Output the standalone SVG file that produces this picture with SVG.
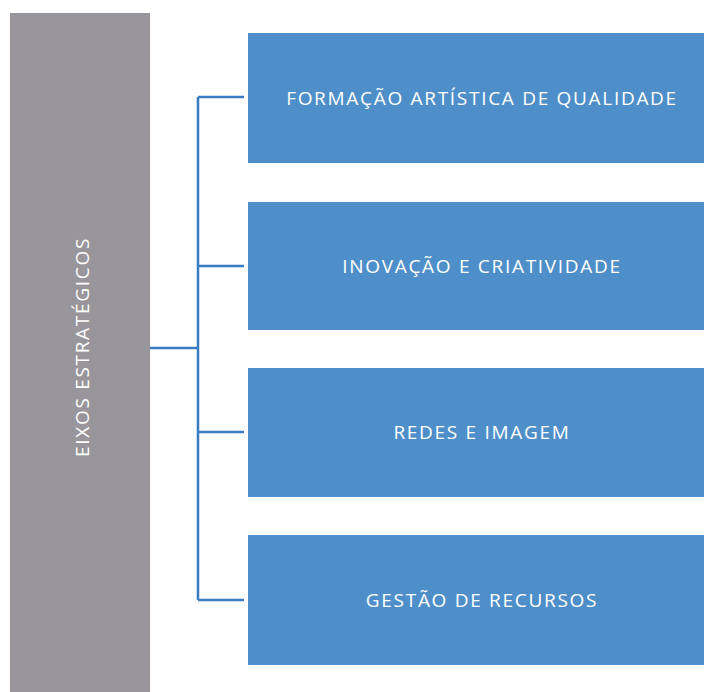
<svg xmlns="http://www.w3.org/2000/svg" width="704" height="692" viewBox="0 0 704 692">
<style>
.box{fill:#4f8fc9;}
.lbl{fill:#ffffff;font-family:"Open Sans","Liberation Sans",sans-serif;font-size:19px;letter-spacing:1.7px;text-anchor:middle;}
.con{stroke:#3a7cc1;stroke-width:2.5;fill:none;}
</style>
<rect width="704" height="692" fill="#ffffff"/>
<g id="eixos">
<rect x="10" y="13" width="140" height="679" fill="#99969b"/>
<text class="lbl" transform="translate(89,347) rotate(-90)">EIXOS ESTRATÉGICOS</text>
</g>
<g id="connectors">
<path class="con" d="M150 348 H198 M198 97 V600 M198 97 H244 M198 266 H244 M198 432 H244 M198 600 H244"/>
</g>
<g id="formacao">
<rect class="box" x="248" y="33" width="470" height="130"/>
<text class="lbl" x="482" y="105">FORMAÇÃO ARTÍSTICA DE QUALIDADE</text>
</g>
<g id="inovacao">
<rect class="box" x="248" y="202" width="470" height="128"/>
<text class="lbl" x="482" y="273">INOVAÇÃO E CRIATIVIDADE</text>
</g>
<g id="redes">
<rect class="box" x="248" y="368" width="470" height="129"/>
<text class="lbl" x="482" y="439">REDES E IMAGEM</text>
</g>
<g id="gestao">
<rect class="box" x="248" y="535" width="470" height="130"/>
<text class="lbl" x="482" y="607">GESTÃO DE RECURSOS</text>
</g>
</svg>
